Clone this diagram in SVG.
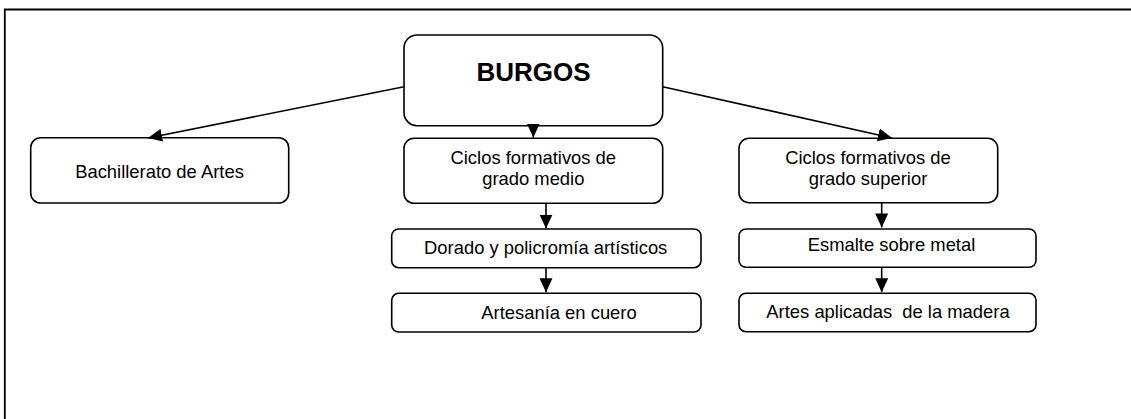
<svg xmlns="http://www.w3.org/2000/svg" width="1131" height="419" viewBox="0 0 1131 419">
<style>
.box{fill:#fff;stroke:#000;stroke-width:1.6}
.t{font-family:"Liberation Sans",Arial,sans-serif;font-size:18.4px;fill:#000;text-anchor:middle;white-space:pre}
.b{font-family:"Liberation Sans",Arial,sans-serif;font-size:26px;font-weight:bold;fill:#000;text-anchor:middle}
.c{stroke:#000;stroke-width:1.6;fill:none}
</style>
<defs>
<marker id="ah" markerUnits="userSpaceOnUse" markerWidth="15" markerHeight="14" refX="14" refY="7" orient="auto" viewBox="0 0 15 14">
<path d="M0,0.5 L14,7 L0,13.5 z" fill="#000"/>
</marker>
</defs>
<rect x="0" y="0" width="1131" height="419" fill="#fff"/>
<path d="M4.8,419 V9.5 H1131" fill="none" stroke="#000" stroke-width="1.8"/>
<g id="burgos"><rect class="box" x="404" y="35" width="258.7" height="90.7" rx="13"/><text class="b" x="533.5" y="81">BURGOS</text></g>
<g id="bachillerato"><rect class="box" x="30.7" y="137.7" width="258" height="65.3" rx="10"/><text class="t" x="159.5" y="178.3">Bachillerato de Artes</text></g>
<g id="medio"><rect class="box" x="404" y="138.3" width="258.7" height="65" rx="10"/><text class="t" x="533.3" y="164">Ciclos formativos de</text><text class="t" x="533.3" y="185">grado medio</text></g>
<g id="superior"><rect class="box" x="739" y="138.3" width="258.7" height="64.4" rx="10"/><text class="t" x="868" y="164.3">Ciclos formativos de</text><text class="t" x="868" y="185">grado superior</text></g>
<g id="dorado"><rect class="box" x="391.7" y="229" width="309.3" height="38.7" rx="7"/><text class="t" x="545.7" y="254">Dorado y policromía artísticos</text></g>
<g id="artesania"><rect class="box" x="391.7" y="293.3" width="309.3" height="38.7" rx="7"/><text class="t" x="559" y="319">Artesanía en cuero</text></g>
<g id="esmalte"><rect class="box" x="739" y="229" width="297" height="38.3" rx="7"/><text class="t" x="891.5" y="250.7">Esmalte sobre metal</text></g>
<g id="madera"><rect class="box" x="739" y="293.3" width="297" height="38.4" rx="7"/><text class="t" x="888" y="318.3" xml:space="preserve">Artes aplicadas  de la madera</text></g>
<g id="connectors">
<line class="c" x1="404" y1="86.7" x2="148" y2="138" marker-end="url(#ah)"/>
<line class="c" x1="662.7" y1="86.7" x2="892" y2="138" marker-end="url(#ah)"/>
<line class="c" x1="533.3" y1="125" x2="533.3" y2="137.5" marker-end="url(#ah)"/>
<line class="c" x1="546" y1="203.3" x2="546" y2="228.6" marker-end="url(#ah)"/>
<line class="c" x1="546" y1="267.7" x2="546" y2="292.2" marker-end="url(#ah)"/>
<line class="c" x1="881.7" y1="202.7" x2="881.7" y2="227.4" marker-end="url(#ah)"/>
<line class="c" x1="881.7" y1="267.3" x2="881.7" y2="292.2" marker-end="url(#ah)"/>
</g>
</svg>
